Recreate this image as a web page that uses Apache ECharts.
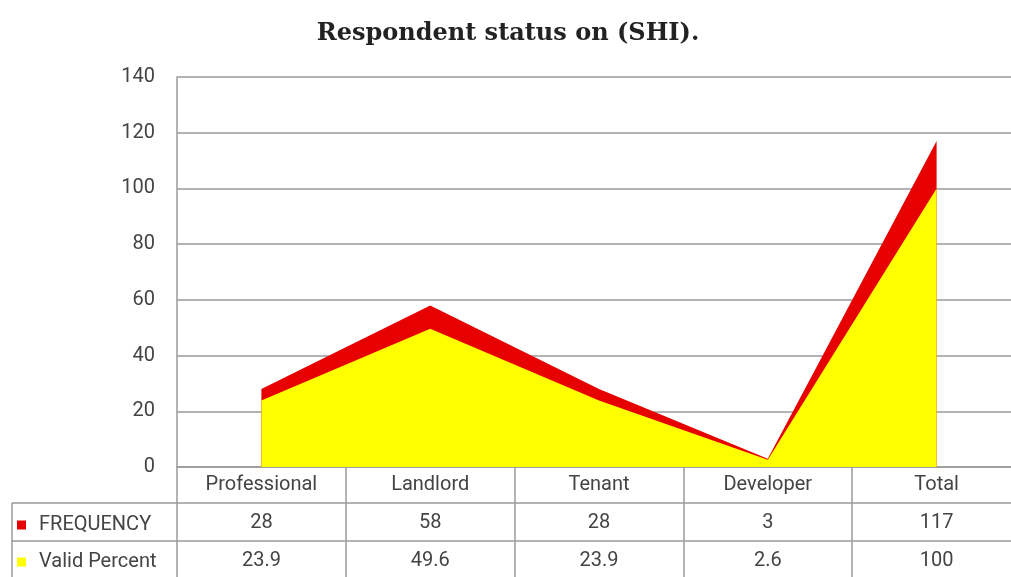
<!DOCTYPE html>
<html>
<head>
<meta charset="utf-8">
<script src="https://cdn.jsdelivr.net/npm/echarts@6/dist/echarts.min.js"></script>
<style>
  html, body { margin: 0; padding: 0; background: #fff; }
  #main { width: 1011px; height: 577px; }
</style>
</head>
<body>
<div id="main"></div>
<script>
// data
var categories = ['Professional', 'Landlord', 'Tenant', 'Developer', 'Total'];
var frequency = [28, 58, 28, 3, 117];
var validPercent = [23.9, 49.6, 23.9, 2.6, 100];
var yTicks = [0, 20, 40, 60, 80, 100, 120, 140];

var lineCol = '#9a9a9a';
var txtCol = '#444';

var myChart = echarts.init(document.getElementById('main'));

// one bottom axis per table row, stacked downwards with offset
function rowAxis(offset, labels, tickLen, margin) {
    return {
        type: 'category',
        data: categories,
        position: 'bottom',
        offset: offset,
        boundaryGap: true,
        axisLine: { show: true, lineStyle: { color: lineCol, width: 1.5 } },
        axisTick: { show: true, length: tickLen, alignWithLabel: false, lineStyle: { color: lineCol, width: 1.5 } },
        axisLabel: {
            show: true,
            interval: 0,
            margin: margin,
            color: txtCol,
            fontFamily: 'Roboto',
            fontSize: 20,
            formatter: function (v, i) { return labels ? String(labels[i]) : v; }
        },
        splitLine: { show: false }
    };
}

var option = {
    animation: false,
    title: {
        text: 'Respondent status on (SHI).',
        left: 503,
        textAlign: 'center',
        top: 17,
        textStyle: { fontFamily: 'DejaVu Serif', fontWeight: 'bold', fontSize: 24, color: '#222' }
    },
    legend: {
        orient: 'vertical',
        left: 17,
        top: 515,
        padding: 0,
        height: 62,
        itemWidth: 9,
        itemHeight: 9,
        itemGap: 17,
        icon: 'rect',
        textStyle: { fontFamily: 'Roboto', fontSize: 20, color: txtCol, padding: [0, 0, 0, 8] },
        data: ['FREQUENCY', 'Valid Percent']
    },
    grid: { left: 177, width: 844, top: 77, bottom: 110, outerBoundsMode: 'none' },
    xAxis: [
        rowAxis(0, null, 36, 8),
        rowAxis(36, frequency, 38, 10),
        rowAxis(74, validPercent, 40, 10)
    ],
    yAxis: {
        type: 'value',
        min: 0,
        max: 140,
        interval: 20,
        axisLine: { show: true, lineStyle: { color: lineCol, width: 1.5 } },
        axisTick: { show: false },
        axisLabel: {
            color: txtCol, fontFamily: 'Roboto', fontSize: 20, margin: 22,
            formatter: function (v) { return yTicks.indexOf(v) >= 0 ? v : ''; }
        },
        splitLine: { show: true, lineStyle: { color: lineCol, width: 1.5 } }
    },
    series: [
        {
            name: 'FREQUENCY',
            type: 'line',
            data: frequency,
            symbol: 'none',
            color: '#e60000',
            lineStyle: { width: 0 },
            areaStyle: { color: '#e60000', opacity: 1 }
        },
        {
            name: 'Valid Percent',
            type: 'line',
            data: validPercent,
            symbol: 'none',
            color: '#ffff00',
            lineStyle: { width: 0 },
            areaStyle: { color: '#ffff00', opacity: 1 }
        }
    ],
    graphic: [
        // left cell of the data table (legend column)
        { type: 'line', shape: { x1: 12, y1: 503, x2: 177, y2: 503 }, style: { stroke: lineCol, lineWidth: 1.5 } },
        { type: 'line', shape: { x1: 12, y1: 541, x2: 177, y2: 541 }, style: { stroke: lineCol, lineWidth: 1.5 } },
        { type: 'line', shape: { x1: 12, y1: 503, x2: 12, y2: 577 }, style: { stroke: lineCol, lineWidth: 1.5 } }
    ]
};
myChart.setOption(option);
</script>
</body>
</html>
